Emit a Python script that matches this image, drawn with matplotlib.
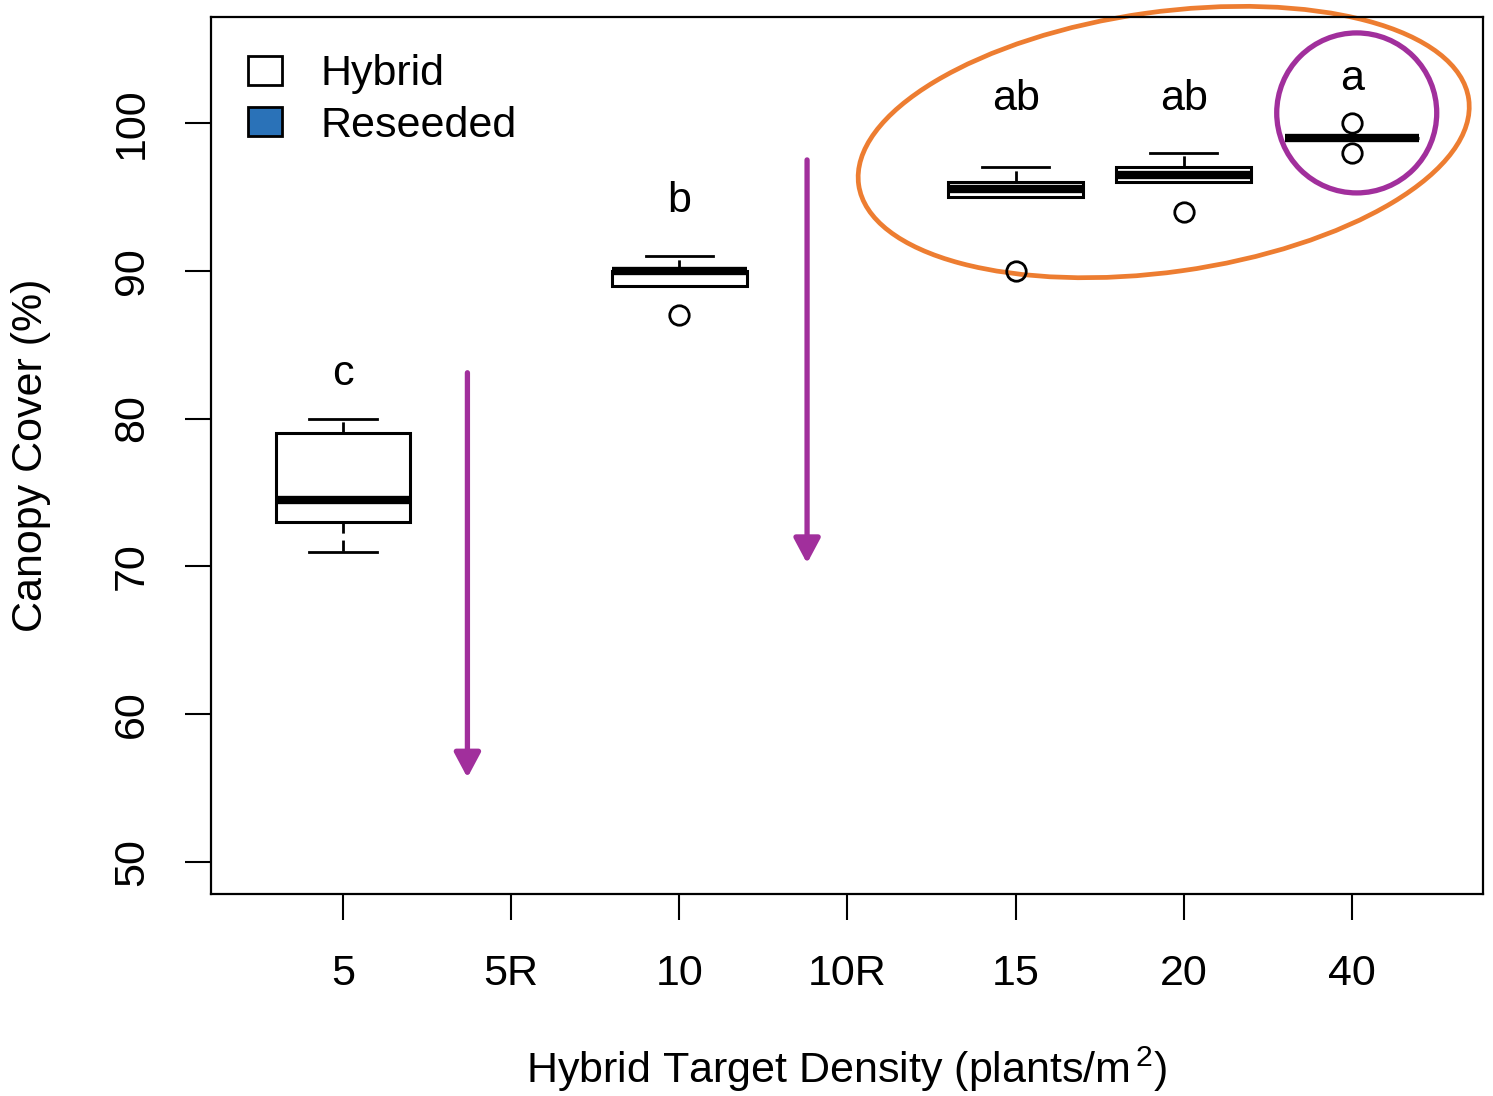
import numpy as np
import matplotlib
matplotlib.use('Agg')
import matplotlib.pyplot as plt
from matplotlib.patches import Patch, Ellipse, Circle

plt.rcParams['font.family'] = ['Liberation Sans', 'DejaVu Sans']
plt.rcParams['mathtext.fontset'] = 'custom'
plt.rcParams['mathtext.rm'] = 'Liberation Sans'

# categories on the x axis
tick_labels = ['5', '5R', '10', '10R', '15', '20', '40']

# box summaries for the hybrid treatments (reseeded ones have no box)
box_pos = [1, 3, 5, 6, 7]
whis_lo = [71, 89, 95, 96, 99]
q1 = [73, 89, 95, 96, 99]
med = [74.5, 90, 95.5, 96.5, 99]
q3 = [79, 90, 96, 97, 99]
whis_hi = [80, 91, 97, 98, 99]
fliers = [[], [87], [90], [94], [100, 98]]

# significance letters
letters = ['c', 'b', 'ab', 'ab', 'a']
letter_y = [82.3, 94.0, 100.9, 100.9, 102.2]

# purple arrows (x, y_start, y_end)
arrow_x = [1.74, 3.76]
arrow_top = [83.1, 97.5]
arrow_tip = [55.7, 70.2]

FS = 31
purple = '#A12F9C'
orange = '#ED7D31'

fig = plt.figure(figsize=(14.93, 10.96), dpi=100)
ax = fig.add_axes([211 / 1493, (1096 - 894) / 1096, (1483 - 211) / 1493, (894 - 17) / 1096])

stats = []
for i in range(len(box_pos)):
    stats.append(dict(whislo=whis_lo[i], q1=q1[i], med=med[i], q3=q3[i],
                      whishi=whis_hi[i], fliers=fliers[i]))

ax.bxp(stats, positions=box_pos, widths=0.8, patch_artist=True,
       boxprops=dict(facecolor='white', edgecolor='black', linewidth=2.2),
       medianprops=dict(color='black', linewidth=6, solid_capstyle='butt'),
       whiskerprops=dict(color='black', linewidth=2, linestyle=(0, (4, 2.5))),
       capprops=dict(color='black', linewidth=2),
       capwidths=0.4,
       flierprops=dict(marker='o', markerfacecolor='none', markeredgecolor='black',
                       markersize=14, markeredgewidth=2))

ax.set_xlim(0.215, 7.78)
ax.set_ylim(47.83, 107.17)
ax.set_xticks(range(1, len(tick_labels) + 1))
ax.set_xticklabels(tick_labels)
ax.set_yticks([50, 60, 70, 80, 90, 100])
ax.tick_params(axis='both', direction='out', length=18.5, width=1.5, labelsize=FS)
ax.tick_params(axis='x', pad=25)
ax.tick_params(axis='y', pad=24, labelrotation=90)
for lab in ax.get_yticklabels():
    lab.set_va('center')
for s in ax.spines.values():
    s.set_linewidth(1.6)

ax.set_xlabel(r'Hybrid Target Density (plants/m$^{\,2}$)', fontsize=FS, labelpad=36)
ax.set_ylabel('Canopy Cover (%)', fontsize=FS, labelpad=44)

for i, p in enumerate(box_pos):
    ax.text(p, letter_y[i], letters[i], fontsize=FS, ha='center', va='baseline')

for i in range(len(arrow_x)):
    ax.annotate('', xy=(arrow_x[i], arrow_tip[i]), xytext=(arrow_x[i], arrow_top[i]),
                arrowprops=dict(arrowstyle='-|>,head_width=0.4,head_length=0.75',
                                mutation_scale=20, color=purple, lw=3.8,
                                shrinkA=0, shrinkB=0))

# highlight shapes drawn in inches around data anchors
to_in = ax.transData + fig.dpi_scale_trans.inverted()
ell_c = to_in.transform((5.881, 98.71))
ax.add_patch(Ellipse(ell_c, 6.16, 2.60, angle=8, transform=fig.dpi_scale_trans,
                     fill=False, edgecolor=orange, linewidth=3.4, clip_on=False))
circ_c = to_in.transform((7.029, 100.68))
ax.add_patch(Circle(circ_c, 0.80, transform=fig.dpi_scale_trans,
                    fill=False, edgecolor=purple, linewidth=3.8, clip_on=False))

handles = [Patch(facecolor='white', edgecolor='black', linewidth=2),
           Patch(facecolor='#2A72B8', edgecolor='black', linewidth=2)]
ax.legend(handles, ['Hybrid', 'Reseeded'], loc='upper left', frameon=False,
          fontsize=FS, handlelength=0.77, handleheight=0.65, handletextpad=0.9,
          labelspacing=0.26, borderaxespad=0.37, borderpad=0.5)

fig.savefig('out.png', dpi=100)
